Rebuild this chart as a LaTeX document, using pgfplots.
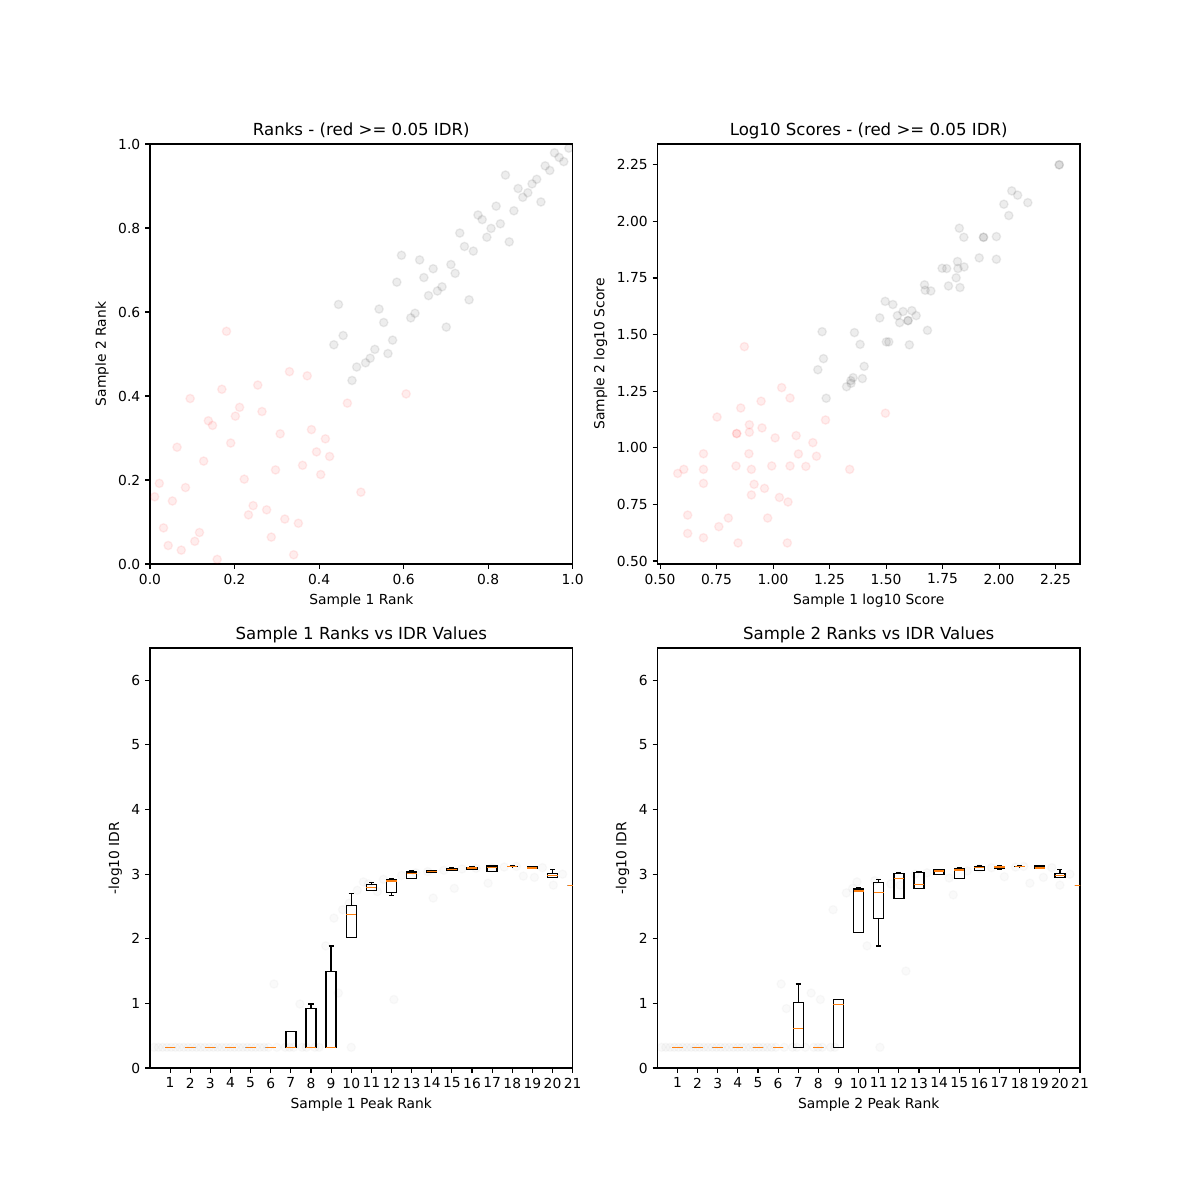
\documentclass[border=0pt]{standalone}
\usepackage{fontspec}
\setmainfont{DejaVu Sans}
\usepackage{pgfplots}
\pgfplotsset{compat=1.18}
\usepgfplotslibrary{statistics}
\definecolor{mplorange}{HTML}{FF7F0E}
\pgfplotsset{
  mplbase/.style={
    scale only axis, width=304.3bp, height=302.4bp,
    anchor=south west,
    axis line style={line width=0.8bp},
    tick align=outside, tick pos=left,
    major tick length=3.5bp,
    every tick/.style={black, line width=0.8bp},
    font=\fontsize{10}{12}\selectfont,
    tick label style={font=\fontsize{10}{12}\selectfont},
    label style={font=\fontsize{10}{12}\selectfont},
    every axis title shift=0pt,
    title style={font=\fontsize{12}{14}\selectfont, at={(0.5,1)}, anchor=base, yshift=6bp},
    /pgf/number format/assume math mode=true,
    clip marker paths=true,
  },
  redpts/.style={only marks, mark=*, mark size=3bp, mark options={fill=red, draw=red, opacity=0.07, line width=1bp}},
  graypts/.style={only marks, mark=*, mark size=3bp, mark options={fill=black, draw=black, opacity=0.07, line width=1bp}},
  faintpts/.style={only marks, mark=*, mark size=3bp, mark options={fill=black, draw=black, opacity=0.02, line width=1bp}},
  bp/.style={black, solid, line width=1bp, boxplot/draw direction=y, boxplot/box extend=0.5, boxplot/whisker extend=0.25,
    boxplot/every median/.style={draw=mplorange, line width=1bp}},
  medline/.style={mplorange, solid, line width=1bp, no marks},
  boxaxis/.style={mplbase, xmin=0, xmax=21, ymin=0, ymax=6.5,
    xtick={1,2,3,4,5,6,7,8,9,10,11,12,13,14,15,16,17,18,19,20,21},
    ytick={0,1,2,3,4,5,6}, ylabel={-log10 IDR}},
  overlay/.style={mplbase, hide axis, xmin=0, xmax=21, ymin=0, ymax=6.5, unbounded coords=jump},
}
\begin{document}
\begin{tikzpicture}
\path[use as bounding box] (0,0) rectangle (864bp,864bp);
% ---------------- Top left
\begin{axis}[mplbase, at={(108bp,457.92bp)},
  xmin=0, xmax=1, ymin=0, ymax=1,
  xtick={0,0.2,0.4,0.6,0.8,1.0}, ytick={0,0.2,0.4,0.6,0.8,1.0},
  xticklabel style={/pgf/number format/.cd, fixed, fixed zerofill, precision=1},
  yticklabel style={/pgf/number format/.cd, fixed, fixed zerofill, precision=1},
  title={Ranks - (red >= 0.05 IDR)},
  xlabel={Sample 1 Rank}, ylabel={Sample 2 Rank}]
\addplot[graypts] table {
0.991 0.990
0.957 0.979
0.968 0.968
0.979 0.958
0.935 0.948
0.946 0.937
0.841 0.926
0.915 0.916
0.904 0.905
0.871 0.894
0.894 0.884
0.882 0.873
0.925 0.862
0.819 0.852
0.861 0.841
0.776 0.831
0.786 0.820
0.829 0.810
0.807 0.799
0.733 0.788
0.797 0.778
0.850 0.767
0.744 0.756
0.765 0.745
0.595 0.735
0.638 0.724
0.712 0.713
0.670 0.703
0.722 0.692
0.648 0.682
0.584 0.671
0.691 0.660
0.680 0.650
0.659 0.639
0.755 0.629
0.446 0.618
0.542 0.607
0.627 0.597
0.617 0.586
0.553 0.575
0.701 0.564
0.574 0.533
0.457 0.544
0.435 0.522
0.532 0.511
0.563 0.501
0.521 0.490
0.510 0.479
0.489 0.469
0.478 0.437
};
\addplot[redpts] table {
0.181 0.554
0.330 0.458
0.372 0.448
0.255 0.426
0.170 0.416
0.095 0.394
0.606 0.405
0.467 0.383
0.212 0.373
0.265 0.363
0.202 0.352
0.138 0.341
0.148 0.330
0.382 0.320
0.308 0.310
0.415 0.298
0.191 0.288
0.064 0.278
0.394 0.267
0.425 0.256
0.127 0.245
0.361 0.235
0.297 0.224
0.404 0.213
0.223 0.202
0.022 0.192
0.084 0.182
0.499 0.171
0.011 0.160
0.053 0.150
0.244 0.139
0.276 0.129
0.233 0.117
0.319 0.107
0.351 0.097
0.032 0.086
0.117 0.075
0.287 0.064
0.106 0.054
0.043 0.044
0.074 0.033
0.340 0.022
0.159 0.011
};
\end{axis}
% ---------------- Top right
\begin{axis}[mplbase, at={(473.3bp,457.92bp)},
  xmin=0.488, xmax=2.358, ymin=0.487, ymax=2.342,
  xtick={0.5,0.75,1.0,1.25,1.5,1.75,2.0,2.25}, ytick={0.5,0.75,1.0,1.25,1.5,1.75,2.0,2.25},
  xticklabel style={/pgf/number format/.cd, fixed, fixed zerofill, precision=2},
  yticklabel style={/pgf/number format/.cd, fixed, fixed zerofill, precision=2},
  title={Log10 Scores - (red >= 0.05 IDR)},
  xlabel={Sample 1 log10 Score}, ylabel={Sample 2 log10 Score}]
\addplot[graypts] table {
2.266 2.250
2.266 2.250
2.056 2.135
2.082 2.116
2.021 2.076
2.127 2.083
2.043 2.026
1.824 1.970
1.844 1.930
1.931 1.930
1.931 1.930
1.988 1.933
1.912 1.839
1.988 1.833
1.816 1.823
1.748 1.793
1.768 1.792
1.818 1.792
1.845 1.799
1.810 1.751
1.670 1.720
1.776 1.715
1.827 1.708
1.673 1.696
1.698 1.693
1.496 1.647
1.530 1.633
1.472 1.574
1.550 1.584
1.575 1.602
1.614 1.606
1.633 1.584
1.560 1.553
1.597 1.562
1.597 1.562
1.683 1.519
1.217 1.513
1.360 1.509
1.385 1.457
1.501 1.468
1.512 1.468
1.603 1.455
1.223 1.394
1.198 1.345
1.403 1.360
1.354 1.310
1.395 1.306
1.344 1.297
1.345 1.285
1.325 1.270
1.235 1.219
};
\addplot[redpts] table {
0.873 1.447
1.038 1.266
1.075 1.220
0.947 1.206
0.857 1.176
0.752 1.136
1.497 1.153
1.232 1.123
0.839 1.063
0.839 1.063
0.895 1.102
0.895 1.069
0.951 1.088
1.102 1.054
1.009 1.044
1.176 1.023
0.692 0.974
0.893 0.974
1.112 0.973
1.192 0.963
0.836 0.920
0.994 0.920
1.075 0.920
1.145 0.918
0.578 0.887
0.605 0.905
0.692 0.905
0.904 0.905
1.339 0.905
0.692 0.843
0.916 0.839
0.962 0.821
0.904 0.792
1.028 0.781
1.066 0.761
0.622 0.703
0.802 0.690
0.976 0.690
0.760 0.652
0.622 0.622
0.692 0.603
0.845 0.580
1.063 0.580
};
\end{axis}
% ---------------- Bottom left
\begin{axis}[boxaxis, at={(108bp,95.04bp)},
  title={Sample 1 Ranks vs IDR Values}, xlabel={Sample 1 Peak Rank}]
\addplot[faintpts] table {
0.21 0.32
0.42 0.32
0.63 0.32
0.84 0.32
1.05 0.32
1.26 0.32
1.47 0.32
1.68 0.32
1.89 0.32
2.10 0.32
2.31 0.32
2.52 0.32
2.73 0.32
2.94 0.32
3.15 0.32
3.36 0.32
3.57 0.32
3.78 0.32
3.99 0.32
4.20 0.32
4.41 0.32
4.62 0.32
4.83 0.32
5.04 0.32
5.25 0.32
5.46 0.32
5.67 0.32
5.88 0.32
6.30 0.32
6.72 0.32
6.93 0.32
7.14 0.32
7.56 0.32
7.77 0.32
8.19 0.32
8.40 0.32
6.16 1.30
7.45 0.99
9.36 1.16
8.73 1.89
9.14 2.32
9.57 2.45
10.00 0.32
10.60 2.88
9.90 2.55
10.30 2.75
10.85 2.85
11.30 2.73
11.60 2.92
12.12 1.06
12.50 2.98
13.20 3.02
13.80 3.04
14.07 2.63
14.60 3.06
15.12 2.78
15.50 3.08
16.20 3.09
16.80 2.86
17.00 3.10
17.60 3.11
18.20 3.12
18.55 2.97
19.10 2.95
19.50 3.10
20.04 2.83
20.50 3.00
};
\addplot[bp, boxplot prepared={draw position=1, lower whisker=0.32, lower quartile=0.32, median=0.32, upper quartile=0.32, upper whisker=0.32}] coordinates {};
\addplot[bp, boxplot prepared={draw position=2, lower whisker=0.32, lower quartile=0.32, median=0.32, upper quartile=0.32, upper whisker=0.32}] coordinates {};
\addplot[bp, boxplot prepared={draw position=3, lower whisker=0.32, lower quartile=0.32, median=0.32, upper quartile=0.32, upper whisker=0.32}] coordinates {};
\addplot[bp, boxplot prepared={draw position=4, lower whisker=0.32, lower quartile=0.32, median=0.32, upper quartile=0.32, upper whisker=0.32}] coordinates {};
\addplot[bp, boxplot prepared={draw position=5, lower whisker=0.32, lower quartile=0.32, median=0.32, upper quartile=0.32, upper whisker=0.32}] coordinates {};
\addplot[bp, boxplot prepared={draw position=6, lower whisker=0.32, lower quartile=0.32, median=0.32, upper quartile=0.32, upper whisker=0.32}] coordinates {};
\addplot[bp, boxplot prepared={draw position=7, lower whisker=0.32, lower quartile=0.32, median=0.32, upper quartile=0.567, upper whisker=0.567}] coordinates {};
\addplot[bp, boxplot prepared={draw position=8, lower whisker=0.32, lower quartile=0.32, median=0.32, upper quartile=0.918, upper whisker=0.99}] coordinates {};
\addplot[bp, boxplot prepared={draw position=9, lower whisker=0.32, lower quartile=0.32, median=0.32, upper quartile=1.497, upper whisker=1.888}] coordinates {};
\addplot[bp, boxplot prepared={draw position=10, lower whisker=2.023, lower quartile=2.023, median=2.379, upper quartile=2.518, upper whisker=2.704}] coordinates {};
\addplot[bp, boxplot prepared={draw position=11, lower whisker=2.75, lower quartile=2.75, median=2.797, upper quartile=2.838, upper whisker=2.874}] coordinates {};
\addplot[bp, boxplot prepared={draw position=12, lower whisker=2.673, lower quartile=2.714, median=2.895, upper quartile=2.921, upper whisker=2.936}] coordinates {};
\addplot[bp, boxplot prepared={draw position=13, lower whisker=2.93, lower quartile=2.93, median=3.008, upper quartile=3.034, upper whisker=3.05}] coordinates {};
\addplot[bp, boxplot prepared={draw position=14, lower whisker=3.03, lower quartile=3.03, median=3.045, upper quartile=3.05, upper whisker=3.055}] coordinates {};
\addplot[bp, boxplot prepared={draw position=15, lower whisker=3.06, lower quartile=3.06, median=3.076, upper quartile=3.09, upper whisker=3.107}] coordinates {};
\addplot[bp, boxplot prepared={draw position=16, lower whisker=3.076, lower quartile=3.076, median=3.095, upper quartile=3.107, upper whisker=3.112}] coordinates {};
\addplot[bp, boxplot prepared={draw position=17, lower whisker=3.045, lower quartile=3.045, median=3.107, upper quartile=3.127, upper whisker=3.127}] coordinates {};
\addplot[bp, boxplot prepared={draw position=18, lower whisker=3.115, lower quartile=3.117, median=3.12, upper quartile=3.123, upper whisker=3.125}] coordinates {};
\addplot[bp, boxplot prepared={draw position=19, lower whisker=3.085, lower quartile=3.085, median=3.095, upper quartile=3.12, upper whisker=3.12}] coordinates {};
\addplot[bp, boxplot prepared={draw position=20, lower whisker=2.946, lower quartile=2.946, median=2.983, upper quartile=3.013, upper whisker=3.076}] coordinates {};
\addplot[bp, boxplot prepared={draw position=21, lower whisker=2.828, lower quartile=2.828, median=2.828, upper quartile=2.828, upper whisker=2.828}] coordinates {};
\end{axis}
% medians of sample 1, drawn on top
\begin{axis}[overlay, at={(108bp,95.04bp)}]
\addplot[medline] table {
0.75 0.32
1.25 0.32
nan nan
1.75 0.32
2.25 0.32
nan nan
2.75 0.32
3.25 0.32
nan nan
3.75 0.32
4.25 0.32
nan nan
4.75 0.32
5.25 0.32
nan nan
5.75 0.32
6.25 0.32
nan nan
6.75 0.32
7.25 0.32
nan nan
7.75 0.32
8.25 0.32
nan nan
8.75 0.32
9.25 0.32
nan nan
9.75 2.379
10.25 2.379
nan nan
10.75 2.797
11.25 2.797
nan nan
11.75 2.895
12.25 2.895
nan nan
12.75 3.008
13.25 3.008
nan nan
13.75 3.045
14.25 3.045
nan nan
14.75 3.076
15.25 3.076
nan nan
15.75 3.095
16.25 3.095
nan nan
16.75 3.107
17.25 3.107
nan nan
17.75 3.12
18.25 3.12
nan nan
18.75 3.095
19.25 3.095
nan nan
19.75 2.983
20.25 2.983
nan nan
20.75 2.828
21.25 2.828
};
\end{axis}
% ---------------- Bottom right
\begin{axis}[boxaxis, at={(473.3bp,95.04bp)},
  title={Sample 2 Ranks vs IDR Values}, xlabel={Sample 2 Peak Rank}]
\addplot[faintpts] table {
0.21 0.32
0.42 0.32
0.63 0.32
0.84 0.32
1.05 0.32
1.26 0.32
1.47 0.32
1.68 0.32
1.89 0.32
2.10 0.32
2.31 0.32
2.52 0.32
2.73 0.32
2.94 0.32
3.15 0.32
3.36 0.32
3.57 0.32
3.78 0.32
3.99 0.32
4.20 0.32
4.41 0.32
4.62 0.32
4.83 0.32
5.04 0.32
5.25 0.32
5.46 0.32
5.67 0.32
5.88 0.32
6.30 0.32
6.72 0.32
6.93 0.32
7.35 0.32
7.77 0.32
7.98 0.32
8.19 0.32
8.61 0.32
8.82 0.32
6.15 1.30
6.41 0.92
7.64 1.16
8.10 1.06
8.73 2.45
9.39 2.71
9.70 2.78
9.92 2.88
10.42 1.89
10.80 2.90
11.06 0.32
11.60 2.85
12.06 2.83
12.35 1.50
12.80 3.00
13.40 3.02
14.50 2.94
14.70 2.68
15.40 3.05
16.00 3.09
16.60 3.10
17.24 2.96
17.80 3.11
18.20 3.12
18.51 2.86
19.18 2.95
19.60 3.10
20.00 2.83
20.50 3.00
};
\addplot[bp, boxplot prepared={draw position=1, lower whisker=0.32, lower quartile=0.32, median=0.32, upper quartile=0.32, upper whisker=0.32}] coordinates {};
\addplot[bp, boxplot prepared={draw position=2, lower whisker=0.32, lower quartile=0.32, median=0.32, upper quartile=0.32, upper whisker=0.32}] coordinates {};
\addplot[bp, boxplot prepared={draw position=3, lower whisker=0.32, lower quartile=0.32, median=0.32, upper quartile=0.32, upper whisker=0.32}] coordinates {};
\addplot[bp, boxplot prepared={draw position=4, lower whisker=0.32, lower quartile=0.32, median=0.32, upper quartile=0.32, upper whisker=0.32}] coordinates {};
\addplot[bp, boxplot prepared={draw position=5, lower whisker=0.32, lower quartile=0.32, median=0.32, upper quartile=0.32, upper whisker=0.32}] coordinates {};
\addplot[bp, boxplot prepared={draw position=6, lower whisker=0.32, lower quartile=0.32, median=0.32, upper quartile=0.32, upper whisker=0.32}] coordinates {};
\addplot[bp, boxplot prepared={draw position=7, lower whisker=0.32, lower quartile=0.32, median=0.614, upper quartile=1.017, upper whisker=1.30}] coordinates {};
\addplot[bp, boxplot prepared={draw position=8, lower whisker=0.32, lower quartile=0.32, median=0.32, upper quartile=0.32, upper whisker=0.32}] coordinates {};
\addplot[bp, boxplot prepared={draw position=9, lower whisker=0.32, lower quartile=0.32, median=0.986, upper quartile=1.063, upper whisker=1.063}] coordinates {};
\addplot[bp, boxplot prepared={draw position=10, lower whisker=2.10, lower quartile=2.10, median=2.74, upper quartile=2.771, upper whisker=2.797}] coordinates {};
\addplot[bp, boxplot prepared={draw position=11, lower whisker=1.888, lower quartile=2.317, median=2.72, upper quartile=2.874, upper whisker=2.921}] coordinates {};
\addplot[bp, boxplot prepared={draw position=12, lower whisker=2.627, lower quartile=2.627, median=2.936, upper quartile=3.013, upper whisker=3.03}] coordinates {};
\addplot[bp, boxplot prepared={draw position=13, lower whisker=2.782, lower quartile=2.782, median=2.838, upper quartile=3.029, upper whisker=3.045}] coordinates {};
\addplot[bp, boxplot prepared={draw position=14, lower whisker=2.998, lower quartile=2.998, median=3.05, upper quartile=3.065, upper whisker=3.07}] coordinates {};
\addplot[bp, boxplot prepared={draw position=15, lower whisker=2.936, lower quartile=2.936, median=3.065, upper quartile=3.09, upper whisker=3.10}] coordinates {};
\addplot[bp, boxplot prepared={draw position=16, lower whisker=3.06, lower quartile=3.06, median=3.10, upper quartile=3.12, upper whisker=3.125}] coordinates {};
\addplot[bp, boxplot prepared={draw position=17, lower whisker=3.076, lower quartile=3.09, median=3.11, upper quartile=3.12, upper whisker=3.125}] coordinates {};
\addplot[bp, boxplot prepared={draw position=18, lower whisker=3.115, lower quartile=3.117, median=3.12, upper quartile=3.123, upper whisker=3.125}] coordinates {};
\addplot[bp, boxplot prepared={draw position=19, lower whisker=3.085, lower quartile=3.085, median=3.095, upper quartile=3.127, upper whisker=3.127}] coordinates {};
\addplot[bp, boxplot prepared={draw position=20, lower whisker=2.95, lower quartile=2.95, median=2.983, upper quartile=3.013, upper whisker=3.076}] coordinates {};
\addplot[bp, boxplot prepared={draw position=21, lower whisker=2.828, lower quartile=2.828, median=2.828, upper quartile=2.828, upper whisker=2.828}] coordinates {};
\end{axis}
% medians of sample 2, drawn on top
\begin{axis}[overlay, at={(473.3bp,95.04bp)}]
\addplot[medline] table {
0.75 0.32
1.25 0.32
nan nan
1.75 0.32
2.25 0.32
nan nan
2.75 0.32
3.25 0.32
nan nan
3.75 0.32
4.25 0.32
nan nan
4.75 0.32
5.25 0.32
nan nan
5.75 0.32
6.25 0.32
nan nan
6.75 0.614
7.25 0.614
nan nan
7.75 0.32
8.25 0.32
nan nan
8.75 0.986
9.25 0.986
nan nan
9.75 2.74
10.25 2.74
nan nan
10.75 2.72
11.25 2.72
nan nan
11.75 2.936
12.25 2.936
nan nan
12.75 2.838
13.25 2.838
nan nan
13.75 3.05
14.25 3.05
nan nan
14.75 3.065
15.25 3.065
nan nan
15.75 3.10
16.25 3.10
nan nan
16.75 3.11
17.25 3.11
nan nan
17.75 3.12
18.25 3.12
nan nan
18.75 3.095
19.25 3.095
nan nan
19.75 2.983
20.25 2.983
nan nan
20.75 2.828
21.25 2.828
};
\end{axis}
\end{tikzpicture}
\end{document}
